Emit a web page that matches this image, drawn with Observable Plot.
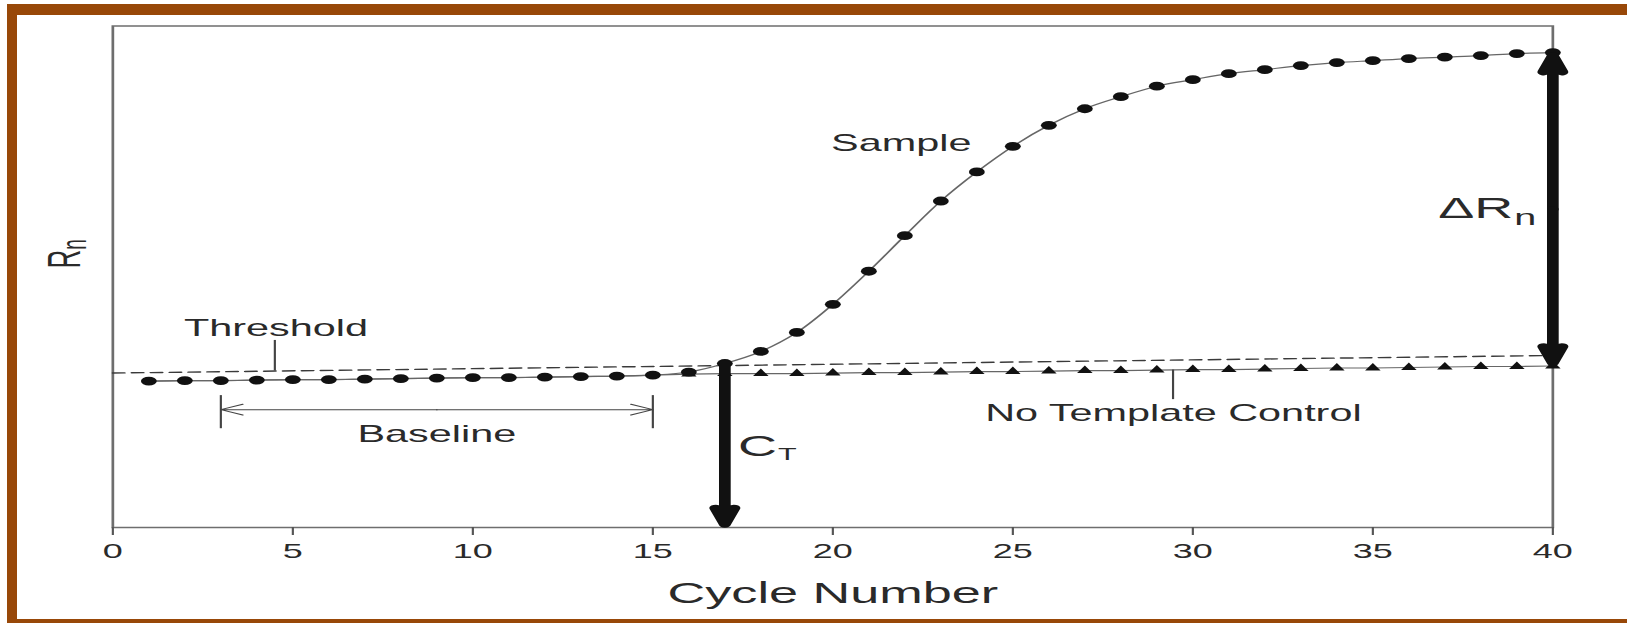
<!DOCTYPE html>
<html>
<head>
<meta charset="utf-8">
<script src="https://cdn.jsdelivr.net/npm/d3@7"></script>
<script src="https://cdn.jsdelivr.net/npm/@observablehq/plot@0.6"></script>
<style>
  html, body { margin: 0; padding: 0; background: #fff; }
  body { width: 1627px; height: 623px; position: relative; overflow: hidden; }
  #bandTop { position: absolute; left: 7px; top: 4px; width: 1620px; height: 11px; background: #984808; }
  #bandLeft { position: absolute; left: 7px; top: 4px; width: 10px; height: 619px; background: #984808; }
  #bandBottom { position: absolute; left: 7px; top: 619px; width: 1620px; height: 4px; background: #984808; }
  #chart { position: absolute; left: 0; top: 0; width: 1627px; height: 623px; }
</style>
</head>
<body>
<div id="bandTop"></div>
<div id="bandLeft"></div>
<div id="bandBottom"></div>
<div id="chart"></div>
<script>
// ---- data (Rn in arbitrary units) ----
const cycles = [1, 2, 3, 4, 5, 6, 7, 8, 9, 10, 11, 12, 13, 14, 15, 16, 17, 18, 19, 20,
                21, 22, 23, 24, 25, 26, 27, 28, 29, 30, 31, 32, 33, 34, 35, 36, 37, 38, 39, 40];
const sampleRn = [29.2, 29.3, 29.3, 29.4, 29.5, 29.5, 29.6, 29.7, 29.8, 29.9,
                  29.9, 30.0, 30.1, 30.2, 30.4, 31.0, 32.7, 35.1, 38.9, 44.5,
                  51.1, 58.2, 65.1, 70.9, 76.0, 80.2, 83.5, 85.9, 88.0, 89.3,
                  90.5, 91.3, 92.1, 92.7, 93.1, 93.5, 93.8, 94.1, 94.5, 94.7];
const ntcRn =    [29.2, 29.3, 29.3, 29.4, 29.5, 29.5, 29.6, 29.7, 29.8, 29.9,
                  29.9, 30.0, 30.1, 30.2, 30.4, 30.6, 30.7, 30.7, 30.7, 30.8,
                  30.9, 30.9, 31.0, 31.1, 31.1, 31.2, 31.3, 31.3, 31.4, 31.5,
                  31.5, 31.6, 31.7, 31.8, 31.8, 31.9, 32.0, 32.1, 32.1, 32.2];
const ntcMarkerFrom = 16;                 // triangles visible from this cycle on
const thresholdCycles = [0, 40];
const thresholdRn = [30.8, 34.3];
const ctCycle = 17;
const deltaCycle = 40;
const baselineRange = [3, 15];
const baselineRn = 23.5;
const baselineTickRn = [19.7, 26.3];
const xTicks = [0, 5, 10, 15, 20, 25, 30, 35, 40];

// annotation anchors (cycle, Rn)
const labels = [
  {text: "Sample", cycle: 21.9, rn: 76.6},
  {text: "Threshold", cycle: 4.53, rn: 39.6},
  {text: "Baseline", cycle: 9.0, rn: 18.5},
  {text: "No Template Control", cycle: 29.46, rn: 22.8}
];
const leaders = [
  {cycle: 4.5, rn1: 31.2, rn2: 37.3},
  {cycle: 29.45, rn1: 31.4, rn2: 25.5}
];
const ctLabel = {main: "C", sub: "T", cycle: 18.45, rn: 16.2};
const dLabel = {main: "\u0394R", sub: "n", cycle: 38.9, rn: 63.6};
const yLabel = {main: "R", sub: "n", rn: 55.4};
const xLabel = "Cycle Number";

// ---- build ----
const W = 904, H = 623, OUTW = 1627;
const sample = cycles.map((c, i) => ({cycle: c, rn: sampleRn[i]}));
const ntc = cycles.map((c, i) => ({cycle: c, rn: ntcRn[i]}));
const threshold = thresholdCycles.map((c, i) => ({cycle: c, rn: thresholdRn[i]}));
const ctRn = sampleRn[cycles.indexOf(ctCycle)];
const topRn = sampleRn[cycles.indexOf(deltaCycle)];
const botRn = ntcRn[cycles.indexOf(deltaCycle)];
const midRn = (topRn + botRn) / 2;
const baseMid = (baselineRange[0] + baselineRange[1]) / 2;
const yMin = 0, yMax = 100;

const ink = "#111";
const txt = "#2a2a2a";

const plot = Plot.plot({
  width: W,
  height: H,
  marginLeft: 62.2,
  marginRight: 41.7,
  marginTop: 25.5,
  marginBottom: 96,
  x: {domain: [0, 40], label: null},
  y: {domain: [yMin, yMax], axis: null, label: null},
  style: {fontFamily: "'Liberation Sans', Arial, Helvetica, sans-serif", color: txt, background: "transparent"},
  marks: [
    Plot.frame({stroke: "#6e6e6e", strokeWidth: 1.5}),
    Plot.axisX({ticks: xTicks, tickSize: 8, tickPadding: 8, fontSize: 20, strokeWidth: 1.2, stroke: "#555", fill: txt, label: null}),
    // threshold
    Plot.line(threshold, {x: "cycle", y: "rn", stroke: "#3a3a3a", strokeWidth: 1.4, strokeDasharray: "6.5,4"}),
    // lines
    Plot.line(ntc, {x: "cycle", y: "rn", stroke: "#666", strokeWidth: 1.2}),
    Plot.line(sample, {x: "cycle", y: "rn", stroke: "#666", strokeWidth: 1.2, curve: "monotone-x"}),
    // markers
    Plot.dot(ntc.filter(d => d.cycle >= ntcMarkerFrom), {x: "cycle", y: "rn", symbol: "triangle", r: 3.2, fill: ink, stroke: "none"}),
    Plot.dot(sample, {x: "cycle", y: "rn", r: 4.4, fill: ink, stroke: "none"}),
    // baseline bracket
    Plot.ruleX(baselineRange, {x: d => d, y1: baselineTickRn[0], y2: baselineTickRn[1], stroke: "#444", strokeWidth: 1.2}),
    Plot.arrow(baselineRange, {x1: () => baseMid, x2: d => d, y1: () => baselineRn, y2: () => baselineRn,
      stroke: "#444", strokeWidth: 1, headLength: 20, headAngle: 48}),
    // leaders
    Plot.ruleX(leaders, {x: "cycle", y1: "rn1", y2: "rn2", stroke: "#444", strokeWidth: 1.2}),
    // Ct arrow
    Plot.arrow([ctCycle], {x1: d => d, x2: d => d, y1: () => ctRn, y2: () => yMin,
      stroke: ink, strokeWidth: 6.5, headLength: 4, headAngle: 36, insetEnd: 3}),
    // delta Rn double arrow
    Plot.arrow([topRn, botRn], {x1: () => deltaCycle, x2: () => deltaCycle, y1: () => midRn, y2: d => d,
      stroke: ink, strokeWidth: 6.5, headLength: 4, headAngle: 36, insetEnd: 3}),
    // labels
    Plot.text(labels, {x: "cycle", y: "rn", text: "text", fontSize: 23, fill: txt}),
    Plot.text([ctLabel], {x: "cycle", y: "rn", text: "main", fontSize: 30, textAnchor: "end", fill: txt}),
    Plot.text([ctLabel], {x: "cycle", y: "rn", text: "sub", fontSize: 17, textAnchor: "start", dx: 0.5, dy: 8, fill: txt}),
    Plot.text([dLabel], {x: "cycle", y: "rn", text: "main", fontSize: 30, textAnchor: "end", fill: txt}),
    Plot.text([dLabel], {x: "cycle", y: "rn", text: "sub", fontSize: 22, textAnchor: "start", dx: 0.5, dy: 9, fill: txt}),
    Plot.text([yLabel], {frameAnchor: "left", y: "rn", text: "main", fontSize: 26, rotate: -90, textAnchor: "end", dx: -26.7, fill: txt}),
    Plot.text([yLabel], {frameAnchor: "left", y: "rn", text: "sub", fontSize: 19, rotate: -90, textAnchor: "start", dx: -21.0, fill: txt}),
    Plot.text([xLabel], {frameAnchor: "bottom", text: d => d, fontSize: 29, dy: 75, fill: txt})
  ]
});

// the original figure is stretched horizontally; reproduce by stretching the whole drawing
plot.setAttribute("viewBox", `0 0 ${W} ${H}`);
plot.setAttribute("preserveAspectRatio", "none");
plot.setAttribute("width", OUTW);
plot.setAttribute("height", H);
plot.style.width = OUTW + "px";
plot.style.height = H + "px";
plot.style.maxWidth = "none";
document.getElementById("chart").appendChild(plot);
</script>
</body>
</html>
